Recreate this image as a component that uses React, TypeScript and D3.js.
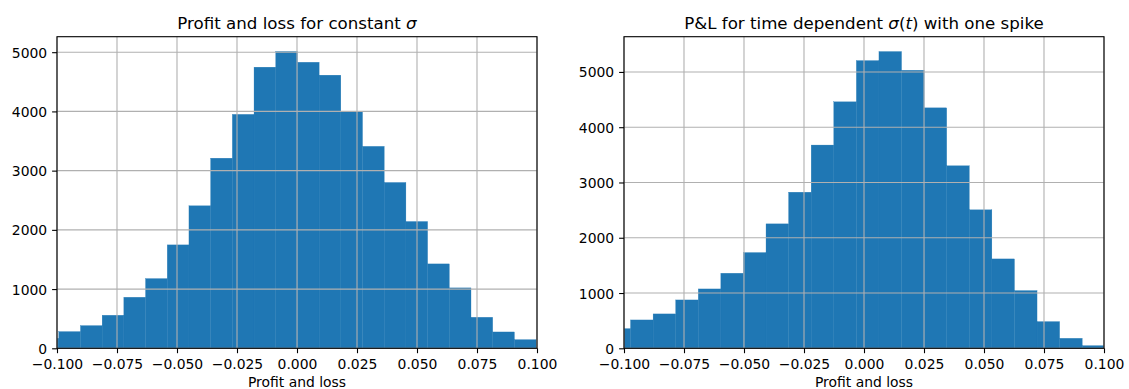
import React, { useEffect, useRef } from 'react';
import * as d3 from 'd3';

// tick values shared by both panels
const xTicks = [-0.1, -0.075, -0.05, -0.025, 0, 0.025, 0.05, 0.075, 0.1];
const yTicks = [0, 1000, 2000, 3000, 4000, 5000];

// constant sigma histogram (first bin starts left of the visible range)
const constBinStart = -0.1083;
const constBinWidth = 0.00904;
const constCounts = [169, 282, 383, 558, 862, 1177, 1746, 2406, 3210, 3950, 4747, 5011,
  4830, 4612, 3995, 3410, 2800, 2141, 1425, 1020, 524, 276, 146];

// time dependent sigma with one spike
const spikeBinStart = -0.10669;
const spikeBinWidth = 0.00941;
const spikeCounts = [356, 513, 622, 875, 1074, 1358, 1732, 2251, 2824, 3677, 4459, 5205,
  5369, 5030, 4350, 3302, 2505, 1617, 1044, 483, 181, 48];

const W = 1129;
const H = 389;
const FONT = 'DejaVu Sans';
const BLUE = '#1f77b4';

type Panel = {
  id: string;
  left: number;
  counts: number[];
  binStart: number;
  binWidth: number;
  title: [string, boolean][];
};

const panels: Panel[] = [
  {
    id: 'a', left: 57, counts: constCounts, binStart: constBinStart, binWidth: constBinWidth,
    title: [['Profit and loss for constant ', false], ['σ', true]],
  },
  {
    id: 'b', left: 624, counts: spikeCounts, binStart: spikeBinStart, binWidth: spikeBinWidth,
    title: [['P&L for time dependent ', false], ['σ', true], ['(', false], ['t', true], [')', false], [' with one spike', false]],
  },
];

const fmt = (d: number) => d3.format('.3f')(d).replace('-', '\u2212');

const App = () => {
  const ref = useRef<SVGSVGElement>(null);

  useEffect(() => {
    const svg = d3.select(ref.current);
    svg.selectAll('*').remove();

    const top = 36.7;
    const bottom = 348.3;
    const pw = 480;

    panels.forEach(p => {
      const x = d3.scaleLinear().domain([-0.1, 0.1]).range([p.left, p.left + pw]);
      const y = d3.scaleLinear().domain([0, d3.max(p.counts)! * 1.05]).range([bottom, top]);

      svg.append('clipPath').attr('id', 'clip-' + p.id)
        .append('rect')
        .attr('x', p.left).attr('y', top)
        .attr('width', pw).attr('height', bottom - top);

      const g = svg.append('g');

      g.append('g').attr('clip-path', `url(#clip-${p.id})`)
        .selectAll('rect')
        .data(p.counts)
        .enter()
        .append('rect')
        .attr('x', (d, i) => x(p.binStart + i * p.binWidth))
        .attr('width', (d, i) => x(p.binStart + (i + 1) * p.binWidth) - x(p.binStart + i * p.binWidth))
        .attr('y', d => y(d))
        .attr('height', d => bottom - y(d))
        .attr('fill', BLUE)
        .attr('stroke', BLUE)
        .attr('stroke-width', 0.3);

      // grid on top of bars, like matplotlib's default
      g.selectAll('.vgrid').data(xTicks).enter().append('line')
        .attr('x1', d => x(d)).attr('x2', d => x(d))
        .attr('y1', top).attr('y2', bottom)
        .attr('stroke', '#b0b0b0').attr('stroke-width', 1.1);
      g.selectAll('.hgrid').data(yTicks).enter().append('line')
        .attr('x1', p.left).attr('x2', p.left + pw)
        .attr('y1', d => y(d)).attr('y2', d => y(d))
        .attr('stroke', '#b0b0b0').attr('stroke-width', 1.1);

      g.append('rect')
        .attr('x', p.left).attr('y', top)
        .attr('width', pw).attr('height', bottom - top)
        .attr('fill', 'none').attr('stroke', 'black').attr('stroke-width', 1.1);

      const xAxis = g.append('g')
        .attr('transform', `translate(0,${bottom})`)
        .call(d3.axisBottom(x).tickValues(xTicks).tickFormat(d => fmt(+d)).tickSize(4.9).tickPadding(4.9));
      const yAxis = g.append('g')
        .attr('transform', `translate(${p.left},0)`)
        .call(d3.axisLeft(y).tickValues(yTicks).tickFormat(d => String(d)).tickSize(4.9).tickPadding(4.9));

      [xAxis, yAxis].forEach(a => {
        a.select('.domain').remove();
        a.attr('font-family', FONT).attr('font-size', 13.9);
        a.selectAll('line').attr('stroke', 'black').attr('stroke-width', 1.1);
        a.selectAll('text').attr('fill', '#000');
      });
      xAxis.selectAll('text').attr('dy', null).attr('y', 20.9);
      yAxis.selectAll('text').attr('dy', '0.36em');

      const title = g.append('text')
        .attr('x', p.left + pw / 2).attr('y', 28.5)
        .attr('text-anchor', 'middle')
        .attr('font-family', FONT).attr('font-size', 16.67).attr('fill', '#000');
      p.title.forEach(([s, it]) => {
        title.append('tspan').text(s).attr('font-style', it ? 'italic' : 'normal');
      });

      g.append('text')
        .attr('x', p.left + pw / 2).attr('y', 387)
        .attr('text-anchor', 'middle')
        .attr('font-family', FONT).attr('font-size', 13.9).attr('fill', '#000')
        .text('Profit and loss');
    });
  }, []);

  return (
    <svg ref={ref} width={W} height={H}
      style={{ position: 'absolute', left: 0, top: 0, background: 'white' }} />
  );
};

export default App;
